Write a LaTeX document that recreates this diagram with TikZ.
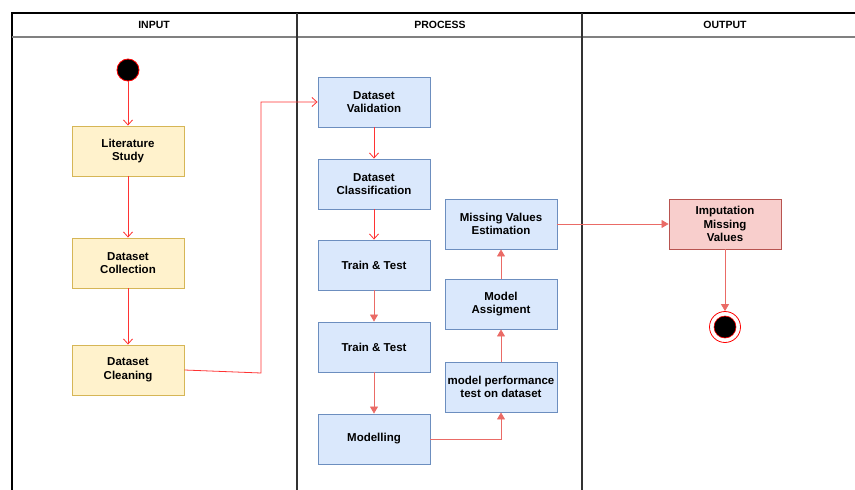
\documentclass[tikz,border=0pt]{standalone}
\usepackage{fontspec}
\setmainfont{Liberation Sans}
\usetikzlibrary{arrows.meta,positioning,calc}
\definecolor{rosso}{HTML}{FF3333}
\definecolor{coral}{HTML}{EA6B66}
\definecolor{sand}{HTML}{FFF2CC}
\definecolor{sandline}{HTML}{D6B656}
\definecolor{sky}{HTML}{DAE8FC}
\definecolor{skyline}{HTML}{6C8EBF}
\definecolor{blush}{HTML}{F8CECC}
\definecolor{blushline}{HTML}{B85450}
\definecolor{lane}{HTML}{333333}

\begin{document}
\begin{tikzpicture}[x=1pt,y=-1pt,
    font=\fontsize{11.5}{13.5}\selectfont\bfseries,
    box/.style={draw,line width=0.9pt,minimum width=112pt,minimum height=50pt,
                inner sep=0pt,align=center},
    inbox/.style={box,fill=sand,draw=sandline},
    procbox/.style={box,fill=sky,draw=skyline},
    outbox/.style={box,fill=blush,draw=blushline},
    flow/.style={draw=rosso,line width=0.8pt,-{Straight Barb[length=5pt,width=9pt]}},
    flowb/.style={draw=coral,line width=0.8pt,-{Triangle[length=7pt,width=8pt]}}]
  \useasboundingbox (0,0) rectangle (855,490);
  % swimlanes
  \draw[black,line width=1.2pt] (12,490) -- (12,13) -- (855,13);
  \draw[gray,line width=1.2pt] (12,37) -- (855,37);
  \draw[lane,line width=1.6pt] (297,13) -- (297,490);
  \draw[lane,line width=1.6pt] (582,13) -- (582,490);
  \node[font=\fontsize{10.5}{12}\selectfont\bfseries] (hin) at (154,25) {INPUT};
  \node[font=\fontsize{10.5}{12}\selectfont\bfseries] (hproc) at (440,25) {PROCESS};
  \node[font=\fontsize{10.5}{12}\selectfont\bfseries] (hout) at (725,25) {OUTPUT};

  % input lane
  \node[circle,fill=black,draw=red,line width=0.8pt,minimum size=22pt,inner sep=0pt] (start) at (128,70) {};
  \node[inbox] (lit) at (128,151) {Literature\\Study};
  \node[inbox] (coll) at (128,263) {Dataset\\Collection};
  \node[inbox] (clean) at (128,370) {Dataset\\Cleaning};

  % process lane
  \node[procbox] (valid) at (374,102) {Dataset\\Validation};
  \node[procbox] (classif) at (374,184) {Dataset\\Classification};
  \node[procbox] (train1) at (374,265) {Train \& Test};
  \node[procbox] (train2) at (374,347) {Train \& Test};
  \node[procbox] (model) at (374,439) {Modelling};
  \node[procbox] (perf) at (501,387) {model performance\\test on dataset};
  \node[procbox] (assign) at (501,304) {Model\\Assigment};
  \node[procbox] (estim) at (501,224) {Missing Values\\Estimation};

  % output lane
  \node[outbox] (imput) at (725,224) {Imputation\\Missing\\Values};
  \node[circle,draw=red,line width=0.8pt,minimum size=31pt,inner sep=0pt] (stop) at (725,327) {};
  \node[circle,fill=black,draw=red,line width=0.6pt,minimum size=22pt,inner sep=0pt] (stopin) at (stop) {};

  \coordinate (bend) at (261,373);

  \draw[flow] (start) -- (lit);
  \draw[flow] (lit) -- (coll);
  \draw[flow] (coll) -- (clean);
  \draw[flow] (clean.east) -- (bend) |- (valid.west);
  \draw[flow] (valid) -- (classif);
  \draw[flow] (classif) -- (train1);
  \draw[flowb] (train1) -- (train2);
  \draw[flowb] (train2) -- (model);
  \draw[flowb] (model.east) -| (perf.south);
  \draw[flowb] (perf) -- (assign);
  \draw[flowb] (assign) -- (estim);
  \draw[flowb] (estim) -- (imput);
  \draw[flowb] (imput) -- (stop);
\end{tikzpicture}
\end{document}
